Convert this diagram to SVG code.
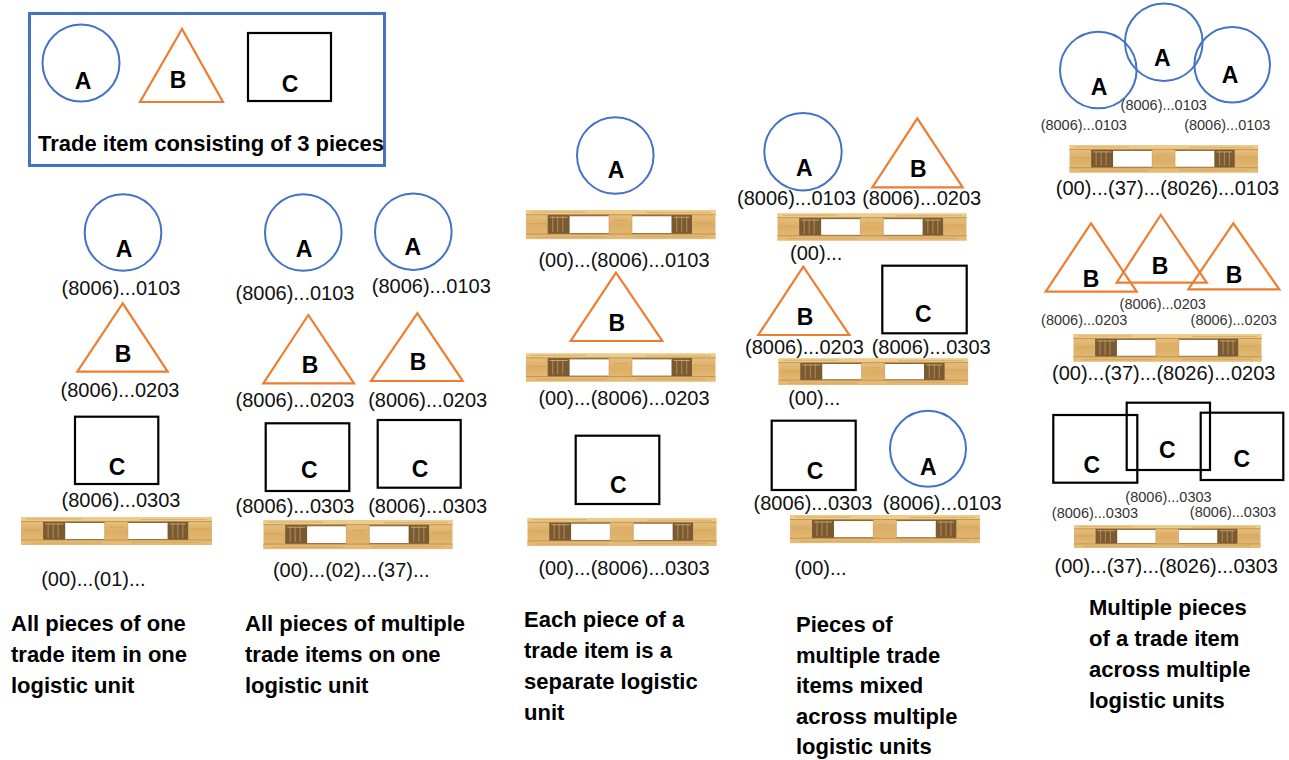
<svg xmlns="http://www.w3.org/2000/svg" width="1289" height="760" viewBox="0 0 1289 760">
<defs>
<style>
.circ{fill:none;stroke:#4472C4;stroke-width:2}
.tri{fill:none;stroke:#ED7D31;stroke-width:2.2;stroke-linejoin:miter}
.box{fill:none;stroke:#000;stroke-width:2.2}
.big{font-family:"Liberation Sans",Arial,sans-serif;font-weight:bold;font-size:23px;text-anchor:middle;fill:#000}
.code{font-family:"Liberation Sans",Arial,sans-serif;font-size:20px;text-anchor:middle;fill:#111}
.small{font-family:"Liberation Sans",Arial,sans-serif;font-size:14.5px;text-anchor:middle;fill:#333}
.title{font-family:"Liberation Sans",Arial,sans-serif;font-weight:bold;font-size:22px;fill:#000}
</style>
<linearGradient id="wood" x1="0" y1="0" x2="0" y2="1">
<stop offset="0" stop-color="#EBC684"/>
<stop offset="0.5" stop-color="#DCAE66"/>
<stop offset="1" stop-color="#E6BD78"/>
</linearGradient>
<symbol id="pallet" viewBox="0 0 190 28" preserveAspectRatio="none">
<rect width="190" height="28" fill="url(#wood)"/>
<rect width="190" height="4.5" fill="#EDCB8A"/>
<rect y="23" width="190" height="5" fill="#E4BA74"/>
<rect x="22" y="4.5" width="22" height="18.5" fill="#7A5A32"/>
<rect x="145.7" y="4.5" width="20.6" height="18.5" fill="#7A5A32"/>
<path d="M27 6v15M32 6v15M37 6v15M151 6v15M156 6v15M161 6v15" stroke="#A8844F" stroke-width="1.2"/>
<path d="M24 7h18M148 7h16" stroke="#C6A36A" stroke-width="1"/>
<rect x="44" y="4.5" width="39.3" height="18.5" fill="#8C6A3C"/>
<rect x="106.3" y="4.5" width="39.4" height="18.5" fill="#8C6A3C"/>
<rect x="44" y="6" width="39.3" height="16" fill="#fff"/>
<rect x="106.3" y="6" width="39.4" height="16" fill="#fff"/>
<path d="M0 4.5H190M0 23H190" stroke="#B88A4A" stroke-width="0.8"/>
<path d="M83.3 4.5v18.5M106.3 4.5v18.5M3 13H20M168 12H188M88 10H102M5 2H60M120 2.5H185M10 26H80M110 25.5H180" stroke="#C99E5E" stroke-width="0.6" fill="none"/>
</symbol>
</defs>
<rect width="1289" height="760" fill="#fff"/>

<g id="legend">
<rect x="29.5" y="13.5" width="355" height="152" fill="none" stroke="#4472C4" stroke-width="3"/>
<circle class="circ" cx="81" cy="63" r="38.5"/>
<text class="big" x="83" y="89">A</text>
<polygon class="tri" points="182,29 140,102 223,102"/>
<text class="big" x="178" y="88">B</text>
<rect class="box" x="248" y="33" width="83" height="68"/>
<text class="big" x="290" y="92">C</text>
<text class="title" x="38" y="151" font-size="21.2">Trade item consisting of 3 pieces</text>
</g>

<g id="connectors"></g>

<!-- Column 1 -->
<g id="c1-A"><circle class="circ" cx="123" cy="232.5" r="38.3"/><text class="big" x="124" y="257">A</text><text class="code" x="121" y="295">(8006)...0103</text></g>
<g id="c1-B"><polygon class="tri" points="122.7,303.3 77.3,371.7 167.7,371.7"/><text class="big" x="123" y="362">B</text><text class="code" x="120" y="397">(8006)...0203</text></g>
<g id="c1-C"><rect class="box" x="75" y="416.7" width="83.3" height="67.3"/><text class="big" x="117" y="475">C</text><text class="code" x="121" y="507">(8006)...0303</text></g>
<g id="c1-pallet"><use href="#pallet" x="21" y="517" width="191" height="28"/><text class="code" x="93.4" y="586">(00)...(01)...</text></g>
<g id="c1-title"><text class="title" x="11" y="631">All pieces of one</text><text class="title" x="11" y="662">trade item in one</text><text class="title" x="11" y="693">logistic unit</text></g>

<!-- Column 2 -->
<g id="c2-A1"><circle class="circ" cx="303.3" cy="232.5" r="38.3"/><text class="big" x="304" y="257">A</text><text class="code" x="295" y="300">(8006)...0103</text></g>
<g id="c2-A2"><circle class="circ" cx="413.3" cy="231.7" r="38.3"/><text class="big" x="412.7" y="255">A</text><text class="code" x="431.3" y="293">(8006)...0103</text></g>
<g id="c2-B1"><polygon class="tri" points="308.3,315 263.3,383.3 354,383.3"/><text class="big" x="310" y="373">B</text><text class="code" x="295" y="406.7">(8006)...0203</text></g>
<g id="c2-B2"><polygon class="tri" points="417.3,313.3 371,381 462.7,381"/><text class="big" x="418" y="370">B</text><text class="code" x="427.7" y="406.7">(8006)...0203</text></g>
<g id="c2-C1"><rect class="box" x="265.7" y="423.3" width="83.6" height="67.7"/><text class="big" x="309.3" y="478">C</text><text class="code" x="295" y="513.3">(8006)...0303</text></g>
<g id="c2-C2"><rect class="box" x="377.7" y="420" width="83" height="67.7"/><text class="big" x="420" y="476.7">C</text><text class="code" x="427.7" y="513.3">(8006)...0303</text></g>
<g id="c2-pallet"><use href="#pallet" x="263.3" y="520" width="189.4" height="29.3"/><text class="code" x="351.3" y="576.7">(00)...(02)...(37)...</text></g>
<g id="c2-title"><text class="title" x="245" y="631">All pieces of multiple</text><text class="title" x="245" y="662">trade items on one</text><text class="title" x="245" y="693">logistic unit</text></g>

<!-- Column 3 -->
<g id="c3-A"><circle class="circ" cx="615.3" cy="155.5" r="38.3"/><text class="big" x="616" y="178.3">A</text></g>
<g id="c3-pallet1"><use href="#pallet" x="525.7" y="210" width="190" height="29.3"/><text class="code" x="624" y="266.7">(00)...(8006)...0103</text></g>
<g id="c3-B"><polygon class="tri" points="616,272.7 570.7,341 662.3,341"/><text class="big" x="616.7" y="330.7">B</text></g>
<g id="c3-pallet2"><use href="#pallet" x="525.7" y="353.3" width="190" height="28.4"/><text class="code" x="624" y="405">(00)...(8006)...0203</text></g>
<g id="c3-C"><rect class="box" x="575.7" y="435.7" width="83.6" height="68.3"/><text class="big" x="618.3" y="493.3">C</text></g>
<g id="c3-pallet3"><use href="#pallet" x="527.3" y="517.7" width="189.4" height="28.3"/><text class="code" x="624" y="575">(00)...(8006)...0303</text></g>
<g id="c3-title"><text class="title" x="524" y="627">Each piece of a</text><text class="title" x="524" y="658">trade item is a</text><text class="title" x="524" y="689">separate logistic</text><text class="title" x="524" y="720">unit</text></g>

<!-- Column 4 -->
<g id="c4-A1"><circle class="circ" cx="803" cy="151.7" r="38.7"/><text class="big" x="804.3" y="175.7">A</text><text class="code" x="796.5" y="205">(8006)...0103</text></g>
<g id="c4-B1"><polygon class="tri" points="917.3,118.3 872.3,187.3 962.7,187.3"/><text class="big" x="918.3" y="176.7">B</text><text class="code" x="921.7" y="205">(8006)...0203</text></g>
<g id="c4-pallet1"><use href="#pallet" x="777.3" y="213.3" width="189.4" height="27.4"/><text class="code" x="816.2" y="260">(00)...</text></g>
<g id="c4-B2"><polygon class="tri" points="803.3,266.7 758.3,335 849.3,335"/><text class="big" x="805" y="325">B</text><text class="code" x="804.5" y="354.3">(8006)...0203</text></g>
<g id="c4-C1"><rect class="box" x="882.3" y="265.7" width="84.4" height="67.6"/><text class="big" x="923.3" y="321.7">C</text><text class="code" x="931.2" y="354.3">(8006)...0303</text></g>
<g id="c4-pallet2"><use href="#pallet" x="778.3" y="358.3" width="190" height="26.7"/><text class="code" x="814.3" y="405">(00)...</text></g>
<g id="c4-C2"><rect class="box" x="771.7" y="420.7" width="84" height="69.3"/><text class="big" x="815" y="479.3">C</text><text class="code" x="813" y="510">(8006)...0303</text></g>
<g id="c4-A2"><circle class="circ" cx="928" cy="448.8" r="38"/><text class="big" x="928.3" y="475">A</text><text class="code" x="942.2" y="510">(8006)...0103</text></g>
<g id="c4-pallet3"><use href="#pallet" x="790" y="515" width="190" height="28.3"/><text class="code" x="820.5" y="575">(00)...</text></g>
<g id="c4-title"><text class="title" x="796" y="632">Pieces of</text><text class="title" x="796" y="663">multiple trade</text><text class="title" x="796" y="693">items mixed</text><text class="title" x="796" y="724">across multiple</text><text class="title" x="796" y="754">logistic units</text></g>

<!-- Column 5 -->
<g id="c5-A1"><circle class="circ" cx="1098.3" cy="70" r="38.3"/><text class="big" x="1099" y="95">A</text><text class="small" x="1083.8" y="130">(8006)...0103</text></g>
<g id="c5-A2"><circle class="circ" cx="1163.8" cy="42.2" r="38.8"/><text class="big" x="1162.3" y="66">A</text><text class="small" x="1163.7" y="110">(8006)...0103</text></g>
<g id="c5-A3"><circle class="circ" cx="1232.2" cy="64.7" r="37.8"/><text class="big" x="1230" y="83.3">A</text><text class="small" x="1227.3" y="130">(8006)...0103</text></g>
<g id="c5-pallet1"><use href="#pallet" x="1069.3" y="145" width="189" height="27.7"/><text class="code" x="1167.5" y="195">(00)...(37)...(8026)...0103</text></g>
<g id="c5-B1"><polygon class="tri" points="1091,223.3 1045.7,291.7 1136.7,291.7"/><text class="big" x="1091" y="287.3">B</text><text class="small" x="1084.2" y="325">(8006)...0203</text></g>
<g id="c5-B2"><polygon class="tri" points="1160.7,215 1116.7,282.7 1206.7,282.7"/><text class="big" x="1160" y="274">B</text><text class="small" x="1162.7" y="309.3">(8006)...0203</text></g>
<g id="c5-B3"><polygon class="tri" points="1233.3,223.3 1188.3,289.3 1279.3,289.3"/><text class="big" x="1234" y="283.3">B</text><text class="small" x="1233.7" y="325">(8006)...0203</text></g>
<g id="c5-pallet2"><use href="#pallet" x="1073.3" y="334" width="188.4" height="27.7"/><text class="code" x="1163.7" y="380">(00)...(37)...(8026)...0203</text></g>
<g id="c5-C1"><rect class="box" x="1053.3" y="415" width="84" height="67.7"/><text class="big" x="1091.7" y="473.3">C</text><text class="small" x="1095" y="518.3">(8006)...0303</text></g>
<g id="c5-C2"><rect class="box" x="1126.7" y="402.7" width="83.3" height="67.3"/><text class="big" x="1167.3" y="458.3">C</text><text class="small" x="1168.5" y="501.7">(8006)...0303</text></g>
<g id="c5-C3"><rect class="box" x="1200.7" y="412.7" width="82.6" height="67.3"/><text class="big" x="1241.7" y="467.3">C</text><text class="small" x="1233" y="516.7">(8006)...0303</text></g>
<g id="c5-pallet3"><use href="#pallet" x="1074" y="525" width="186.7" height="23"/><text class="code" x="1166.2" y="573.3">(00)...(37)...(8026)...0303</text></g>
<g id="c5-title"><text class="title" x="1089" y="615">Multiple pieces</text><text class="title" x="1089" y="646">of a trade item</text><text class="title" x="1089" y="677">across multiple</text><text class="title" x="1089" y="708">logistic units</text></g>
</svg>
